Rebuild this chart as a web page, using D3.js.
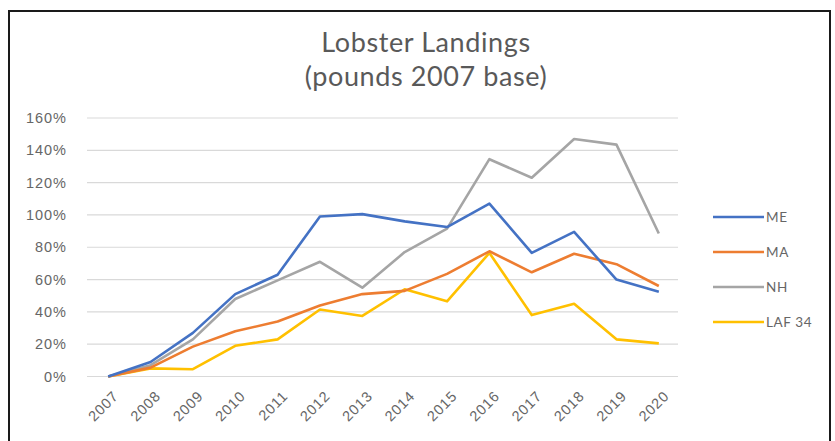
<!DOCTYPE html>
<html>
<head>
<meta charset="utf-8">
<script src="https://cdnjs.cloudflare.com/ajax/libs/d3/7.8.5/d3.min.js"></script>
<style>
  body { margin: 0; background: #fff; }
  svg { display: block; font-family: Lato, "Open Sans", sans-serif; }
</style>
</head>
<body>
<div id="chart"></div>
<script>
// data, percent change vs 2007 pounds
var years = ["2007", "2008", "2009", "2010", "2011", "2012", "2013", "2014", "2015", "2016", "2017", "2018", "2019", "2020"];
var ME  = [0, 9, 27, 51, 63, 99, 100.5, 96, 92.5, 107, 76.5, 89.5, 60, 52.5];
var MA  = [0, 5.5, 18.5, 28, 34, 44, 51, 53, 63.5, 77.5, 64.5, 76, 69.5, 56];
var NH  = [0, 7, 23, 48, 59.5, 71, 55, 77, 91.5, 134.5, 123, 147, 143.5, 88.5];
var LAF = [0, 5, 4.5, 19, 23, 41.5, 37.5, 54, 46.5, 76.5, 38, 45, 23, 20.5];
var yTicks = [0, 20, 40, 60, 80, 100, 120, 140, 160];

var seriesNames = ["ME", "MA", "NH", "LAF 34"];
var seriesValues = [ME, MA, NH, LAF];
var colors = ["#4472C4", "#ED7D31", "#A5A5A5", "#FFC000"];

var W = 835, H = 441;
var margin = { top: 118, left: 87, right: 155, bottom: 64 };
var plotW = 680 - margin.left,
    plotH = 376.5 - margin.top;

var svg = d3.select("#chart").append("svg")
    .attr("width", W)
    .attr("height", H);

// outer frame
svg.append("rect")
    .attr("x", 9).attr("y", 11)
    .attr("width", 821).attr("height", 440)
    .attr("fill", "#fff")
    .attr("stroke", "#1a1a1a")
    .attr("stroke-width", 2);

// title
var title = svg.append("text")
    .attr("text-anchor", "middle")
    .attr("fill", "#595959")
    .style("font-size", "27px")
    .style("letter-spacing", "0.6px");
title.append("tspan").attr("x", 426).attr("y", 52).text("Lobster Landings");
title.append("tspan").attr("x", 426).attr("y", 86).text("(pounds 2007 base)");

var g = svg.append("g")
    .attr("transform", "translate(" + margin.left + "," + margin.top + ")");

var x = d3.scalePoint().domain(years).range([0, plotW]).padding(0.5);
var y = d3.scaleLinear().domain([0, 160]).range([plotH, 0]);

// gridlines
g.append("g")
    .attr("class", "grid")
    .selectAll("line")
    .data(yTicks)
    .enter().append("line")
    .attr("x1", 0).attr("x2", plotW - 2)
    .attr("y1", function(d) { return y(d); })
    .attr("y2", function(d) { return y(d); })
    .attr("stroke", "#d9d9d9")
    .attr("stroke-width", 1.2);

// y axis
var yAxis = g.append("g")
    .call(d3.axisLeft(y).tickValues(yTicks).tickSize(0).tickPadding(20)
        .tickFormat(function(d) { return d + "%"; }));
yAxis.select(".domain").remove();
yAxis.selectAll("text")
    .attr("fill", "#666")
    .style("font-size", "14.5px")
    .style("letter-spacing", "1px");

// x axis
var xAxis = g.append("g")
    .attr("transform", "translate(0," + plotH + ")")
    .call(d3.axisBottom(x).tickSize(0).tickPadding(0));
xAxis.select(".domain").remove();
xAxis.selectAll("text")
    .attr("fill", "#666")
    .style("font-size", "14.5px")
    .style("letter-spacing", "0.8px")
    .attr("text-anchor", "end")
    .attr("dy", "0.35em")
    .attr("transform", "translate(7,17) rotate(-45)");

// lines
var line = d3.line()
    .x(function(d, i) { return x(years[i]); })
    .y(function(d) { return y(d); });

// draw order: LAF 34 under, ME on top
[3, 2, 1, 0].forEach(function(k) {
    g.append("path")
        .datum(seriesValues[k])
        .attr("fill", "none")
        .attr("stroke", colors[k])
        .attr("stroke-width", 2.6)
        .attr("stroke-linejoin", "round")
        .attr("d", line);
});

// legend
var legend = svg.selectAll(".legend")
    .data(seriesNames)
    .enter().append("g")
    .attr("class", "legend")
    .attr("transform", function(d, i) { return "translate(713," + (217 + i * 35) + ")"; });

legend.append("line")
    .attr("x1", 0).attr("x2", 51)
    .attr("stroke", function(d, i) { return colors[i]; })
    .attr("stroke-width", 2.6);

legend.append("text")
    .attr("x", 53)
    .attr("dy", "0.35em")
    .attr("fill", "#666")
    .style("font-size", "13.5px")
    .style("letter-spacing", "0.6px")
    .text(function(d) { return d; });
</script>
</body>
</html>
